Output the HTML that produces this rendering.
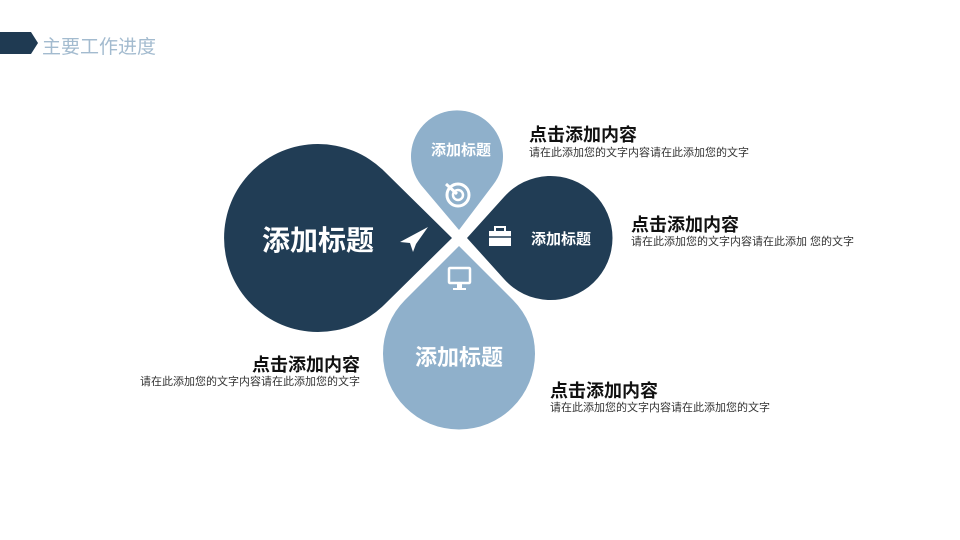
<!DOCTYPE html>
<html><head><meta charset="utf-8"><style>
body{margin:0;width:960px;height:540px;background:#fff;overflow:hidden;font-family:"Liberation Sans","Noto Sans CJK SC",sans-serif;position:relative}
.t{position:absolute;font-weight:bold;font-size:18px;color:#111;white-space:nowrap}
.d{position:absolute;font-size:11px;color:#333;white-space:nowrap}
</style></head><body>
<svg width="960" height="540" style="position:absolute;left:0;top:0">
<polygon points="0,32 31,32 38,43 31,54 0,54" fill="#1f3a52"/>
<path d="M452,238 L384,305 A94 94 0 1 1 384,171 Z" fill="#213d55"/>
<path d="M467,238 L504,197 A62 62 0 1 1 504,279 Z" fill="#213d55"/>
<path d="M459,246 L513,300 A76 76 0 1 1 405,300 Z" fill="#8fb0cb"/>
<path d="M459,230 L421,185 A46 46 0 1 1 493,185 Z" fill="#8fb0cb"/>
<text x="318" y="250" font-size="28" font-weight="bold" fill="#fff" text-anchor="middle" font-family="Liberation Sans,Noto Sans CJK SC,sans-serif">添加标题</text>
<text x="461" y="155" font-size="15" font-weight="bold" fill="#fff" text-anchor="middle" font-family="Liberation Sans,Noto Sans CJK SC,sans-serif">添加标题</text>
<text x="561" y="244" font-size="15" font-weight="bold" fill="#fff" text-anchor="middle" font-family="Liberation Sans,Noto Sans CJK SC,sans-serif">添加标题</text>
<text x="459" y="365" font-size="22" font-weight="bold" fill="#fff" text-anchor="middle" font-family="Liberation Sans,Noto Sans CJK SC,sans-serif">添加标题</text>
<polygon points="428,227 400,242 410,243 413,252 416,244 428,227" fill="#fff"/>
<circle cx="458" cy="195" r="11" fill="none" stroke="#fff" stroke-width="3"/>
<circle cx="458" cy="195" r="5" fill="none" stroke="#fff" stroke-width="2.5"/>
<line x1="446" y1="184" x2="457" y2="194" stroke="#fff" stroke-width="3"/>
<rect x="489" y="231" width="22" height="15" fill="#fff"/>
<rect x="495" y="227" width="10" height="5" fill="none" stroke="#fff" stroke-width="2"/>
<line x1="489" y1="237" x2="511" y2="237" stroke="#213d55" stroke-width="1.5"/>
<rect x="449" y="268" width="21" height="15" rx="1" fill="none" stroke="#fff" stroke-width="2.5"/>
<rect x="457" y="283" width="5" height="5" fill="#fff"/>
<rect x="453" y="288" width="13" height="2" fill="#fff"/>
</svg>
<div style="position:absolute;left:42px;top:32px;font-size:19px;color:#a3bbcf">主要工作进度</div>
<div class="t" style="left:529px;top:121px">点击添加内容</div>
<div class="d" style="left:529px;top:144px">请在此添加您的文字内容请在此添加您的文字</div>
<div class="t" style="left:631px;top:211px">点击添加内容</div>
<div class="d" style="left:631px;top:233px">请在此添加您的文字内容请在此添加 您的文字</div>
<div class="t" style="right:600px;top:351px">点击添加内容</div>
<div class="d" style="right:600px;top:373px">请在此添加您的文字内容请在此添加您的文字</div>
<div class="t" style="left:550px;top:377px">点击添加内容</div>
<div class="d" style="left:550px;top:399px">请在此添加您的文字内容请在此添加您的文字</div>
</body></html>
